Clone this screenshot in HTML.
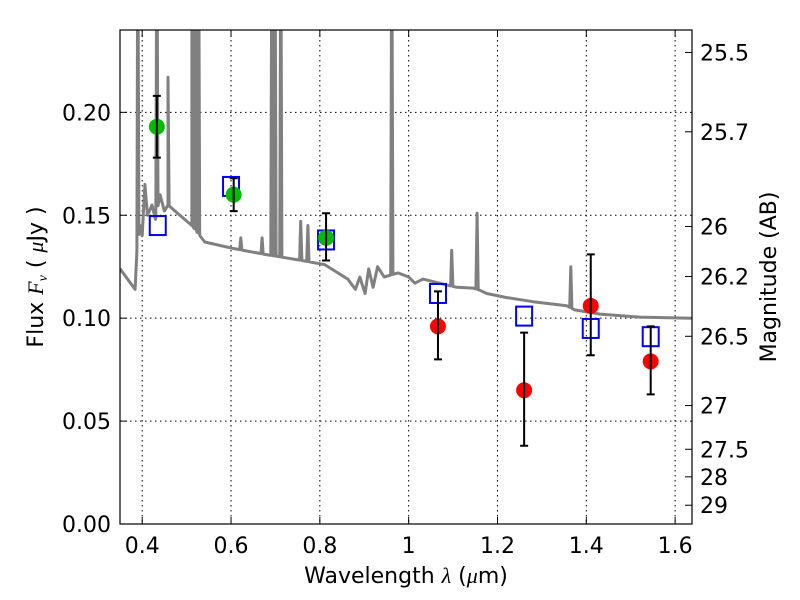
<!DOCTYPE html>
<html><head><meta charset="utf-8"><style>
body{margin:0;background:#fff;}
svg{display:block;font-family:"DejaVu Sans","Liberation Sans",sans-serif;}
</style></head><body>
<svg id="chart" width="800" height="600" xmlns="http://www.w3.org/2000/svg">
<rect x="0" y="0" width="800" height="600" fill="#fff"/>
<defs><clipPath id="pc"><rect x="120" y="30" width="572" height="494"/></clipPath></defs>
<g id="grid"></g>
<g id="spec" clip-path="url(#pc)"></g>
<g id="marks" clip-path="url(#pc)"></g>
<rect x="120" y="30" width="572" height="494" fill="none" stroke="#000" stroke-width="1.2"/>
<g id="axes"></g>
<text x="406" y="583" font-size="22" text-anchor="middle">Wavelength  <tspan font-family="'Liberation Serif',serif" font-style="italic">λ</tspan> (<tspan font-family="'Liberation Serif',serif" font-style="italic">μ</tspan>m)</text>
<text transform="translate(43,277) rotate(-90)" font-size="22" text-anchor="middle">Flux  <tspan font-family="'Liberation Serif',serif" font-style="italic">F<tspan font-size="14" dy="4">ν</tspan></tspan><tspan dy="-4">  (  </tspan><tspan font-family="'Liberation Serif',serif" font-style="italic">μ</tspan>Jy )</text>
<text transform="translate(776,277) rotate(-90)" font-size="22" text-anchor="middle">Magnitude (AB)</text>
</svg>
<script>
const xTicks=[0.4,0.6,0.8,1.0,1.2,1.4,1.6];
const xTickLabels=["0.4","0.6","0.8","1","1.2","1.4","1.6"];
const yTicks=[0,0.05,0.10,0.15,0.20];
const yTickLabels=["0.00","0.05","0.10","0.15","0.20"];
const magTicks=[25.5,25.7,26,26.2,26.5,27,27.5,28,29];
const magTickLabels=["25.5","25.7","26","26.2","26.5","27","27.5","28","29"];
const contWave=[0.35,0.384,0.388,0.395,0.400,0.406,0.412,0.422,0.430,0.440,0.450,0.458,0.474,0.512,0.541,0.602,0.676,0.76,0.811,0.863,0.88,0.89,0.902,0.91,0.92,0.93,0.945,0.976,1.0,1.014,1.032,1.088,1.109,1.145,1.160,1.176,1.221,1.28,1.356,1.374,1.431,1.52,1.638];
const contFlux=[0.124,0.114,0.133,0.145,0.140,0.165,0.150,0.155,0.148,0.160,0.152,0.155,0.152,0.145,0.137,0.134,0.131,0.128,0.126,0.119,0.114,0.120,0.112,0.124,0.115,0.125,0.120,0.122,0.120,0.117,0.119,0.116,0.115,0.1146,0.1136,0.112,0.110,0.108,0.106,0.104,0.102,0.1005,0.100];
const lineWave=[0.39,0.433,0.458,0.512,0.520,0.527,0.622,0.670,0.692,0.699,0.712,0.757,0.773,0.962,1.097,1.154,1.365];
const linePeak=[0.30,0.30,0.217,0.30,0.30,0.30,0.139,0.139,0.30,0.30,0.30,0.147,0.145,0.30,0.133,0.151,0.125];
const obsWave=[0.433,0.606,0.814,1.066,1.26,1.41,1.545];
const obsFlux=[0.193,0.160,0.139,0.096,0.065,0.106,0.079];
const obsLo=[0.178,0.152,0.128,0.080,0.038,0.082,0.063];
const obsHi=[0.208,0.168,0.151,0.113,0.093,0.131,0.096];
const obsColor=["#00bb00","#00bb00","#00bb00","#ff0000","#ff0000","#ff0000","#ff0000"];
const modelWave=[0.435,0.60,0.814,1.066,1.26,1.41,1.545];
const modelFlux=[0.145,0.164,0.138,0.112,0.101,0.095,0.091];

const NS="http://www.w3.org/2000/svg";
const X0=120,X1=692,Y0=524,Y1=30,WMIN=0.35,WMAX=1.638,FMAX=0.24;
const sx=w=>X0+(w-WMIN)/(WMAX-WMIN)*(X1-X0);
const sy=f=>Y0-f/FMAX*(Y0-Y1);
const magToFlux=m=>Math.pow(10,(23.9-m)/2.5);
function mk(parent,tag,attrs){const e=document.createElementNS(NS,tag);for(const k in attrs)e.setAttribute(k,attrs[k]);parent.appendChild(e);return e;}
const grid=document.getElementById('grid'),axes=document.getElementById('axes');
xTicks.forEach((t,i)=>{
  const x=sx(t);
  const g=mk(grid,'line',{x1:x,x2:x,y1:Y1,y2:Y0,stroke:'#000','stroke-dasharray':'1.5,3.5','stroke-width':1});
  
  
  mk(axes,'line',{x1:x,x2:x,y1:Y0,y2:Y0-7,stroke:'#000'});
  mk(axes,'line',{x1:x,x2:x,y1:Y1,y2:Y1+7,stroke:'#000'});
  const tx=mk(axes,'text',{x:x,y:553,'font-size':22,'text-anchor':'middle'});tx.textContent=xTickLabels[i];
  
  
});
yTicks.forEach((t,i)=>{
  const y=sy(t);
  const g=mk(grid,'line',{x1:X0,x2:X1,y1:y,y2:y,stroke:'#000','stroke-dasharray':'1.5,3.5','stroke-width':1});
  
  
  mk(axes,'line',{x1:X0,x2:X0+7,y1:y,y2:y,stroke:'#000'});
  const tx=mk(axes,'text',{x:111,y:y+8,'font-size':22,'text-anchor':'end'});tx.textContent=yTickLabels[i];
  
  
});
magTicks.forEach((m,i)=>{
  const y=sy(magToFlux(m));
  mk(axes,'line',{x1:X1,x2:X1-7,y1:y,y2:y,stroke:'#000'});
  const tx=mk(axes,'text',{x:700,y:y+8,'font-size':22,'text-anchor':'start'});tx.textContent=magTickLabels[i];
  
  
});
function cont(w){for(let i=0;i<contWave.length-1;i++){if(w>=contWave[i]&&w<=contWave[i+1]){const t=(w-contWave[i])/(contWave[i+1]-contWave[i]);return contFlux[i]+t*(contFlux[i+1]-contFlux[i]);}}return contFlux[contFlux.length-1];}
let pts=contWave.map((w,i)=>[w,contFlux[i]]);
lineWave.forEach((w,i)=>{pts.push([w-0.0025,cont(w-0.0025)]);pts.push([w,linePeak[i]]);pts.push([w+0.0025,cont(w+0.0025)]);});
pts.sort((a,b)=>a[0]-b[0]);
const sp=mk(document.getElementById('spec'),'polyline',{points:pts.map(p=>sx(p[0]).toFixed(1)+','+sy(p[1]).toFixed(1)).join(' '),fill:'none',stroke:'#808080','stroke-width':3,'stroke-linejoin':'round'});


const marks=document.getElementById('marks');
modelWave.forEach((w,i)=>{
  const r=mk(marks,'rect',{x:sx(w)-8,y:sy(modelFlux[i])-9.5,width:16,height:19,fill:'none',stroke:'#0000ff','stroke-width':2});
  
  
});
obsWave.forEach((w,i)=>{
  const x=sx(w);
  const c=mk(marks,'circle',{cx:x,cy:sy(obsFlux[i]),r:8,fill:obsColor[i]});
  
  
  const e=mk(marks,'path',{d:`M${x},${sy(obsLo[i])}V${sy(obsHi[i])}M${x-4},${sy(obsLo[i])}H${x+4}M${x-4},${sy(obsHi[i])}H${x+4}`,stroke:'#000','stroke-width':2,fill:'none'});
  
  
});
</script>
</body></html>
